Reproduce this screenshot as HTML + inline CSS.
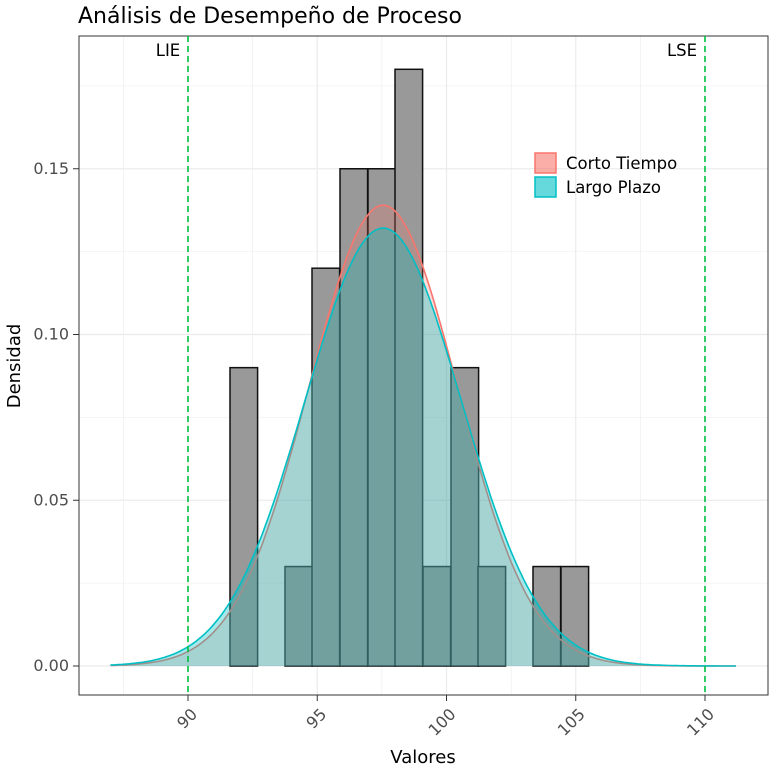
<!DOCTYPE html><html><head><meta charset="utf-8"><style>body{margin:0;background:#fff}svg{display:block;font-family:"DejaVu Sans","Liberation Sans",sans-serif}</style></head><body>
<svg id="s" width="776" height="770" xmlns="http://www.w3.org/2000/svg">
<text x="78" y="23" font-size="22" fill="#000">Análisis de Desempeño de Proceso</text>
<rect x="79" y="36" width="689" height="659" fill="#fff" stroke="none"/>
<g id="grid" stroke="#ebebeb"></g>
<g id="bars"></g>
<g id="curves"></g>
<rect x="79" y="36" width="689" height="659" fill="none" stroke="#333" stroke-width="1"/>
<line x1="188" y1="36" x2="188" y2="695" stroke="#00c040" stroke-width="1.6" stroke-dasharray="6,4"/>
<line x1="705" y1="36" x2="705" y2="695" stroke="#00c040" stroke-width="1.6" stroke-dasharray="6,4"/>
<text x="168" y="56" font-size="16.5" text-anchor="middle">LIE</text>
<text x="682" y="56" font-size="16.5" text-anchor="middle">LSE</text>
<g id="ticks" font-size="16" fill="#4d4d4d"></g>
<text x="423" y="763" font-size="18" text-anchor="middle">Valores</text>
<text transform="translate(20,366) rotate(-90)" font-size="18" text-anchor="middle">Densidad</text>
<rect x="535" y="153" width="21" height="20" fill="#F8766D" fill-opacity="0.6" stroke="#F8766D" stroke-width="1.5"/>
<rect x="535" y="177" width="21" height="20" fill="#00BFC4" fill-opacity="0.6" stroke="#00BFC4" stroke-width="1.5"/>
<text x="566" y="169" font-size="16.5">Corto Tiempo</text>
<text x="566" y="193" font-size="16.5">Largo Plazo</text>
</svg>
<script>
const X=v=>188+(v-90)*25.85, Y=d=>666-d*3315;
const ns="http://www.w3.org/2000/svg";
function el(p,t,a){const e=document.createElementNS(ns,t);for(const k in a)e.setAttribute(k,a[k]);document.getElementById(p).appendChild(e);return e;}
for(let v=87.5;v<=112.5;v+=2.5){const x=X(v);if(x>79&&x<768)el("grid","line",{x1:x,x2:x,y1:36,y2:695,"stroke-width":v%5==0?1.2:0.6});}
for(let d=-0.025;d<=0.2;d+=0.025){const y=Y(d);if(y>36&&y<695)el("grid","line",{x1:79,x2:768,y1:y,y2:y,"stroke-width":Math.abs(d/0.05-Math.round(d/0.05))<1e-6?1.2:0.6});}
const bars=[[230,.09],[285,.03],[312,.12],[340,.15],[368,.15],[395,.18],[423,.03],[451,.09],[478,.03],[533,.03],[561,.03]];
bars.forEach(b=>el("bars","rect",{x:b[0],y:Y(b[1]),width:27.6,height:666-Y(b[1]),fill:"#999",stroke:"#111","stroke-width":1.5}));
function curve(m,s,col,op){let p="";for(let v=87;v<=111.2;v+=0.1){const d=Math.exp(-0.5*((v-m)/s)**2)/(s*Math.sqrt(2*Math.PI));p+=(p?"L":"M")+X(v).toFixed(1)+","+Y(d).toFixed(1);}
el("curves","path",{d:p+"L"+X(111.2)+",666L"+X(87)+",666Z",fill:col,"fill-opacity":op,stroke:"none"});
el("curves","path",{d:p,fill:"none",stroke:col,"stroke-width":1.6});}
curve(97.55,2.87,"#F8766D",0.25);curve(97.55,3.02,"#00BFC4",0.35);
[90,95,100,105,110].forEach(v=>{const x=X(v);el("ticks","line",{x1:x,x2:x,y1:695,y2:701,stroke:"#333"});
const t=el("ticks","text",{transform:`translate(${x+7},${712}) rotate(-45)`,"text-anchor":"end","dominant-baseline":"middle"});t.textContent=v;});
[0,.05,.1,.15].forEach(d=>{const y=Y(d);el("ticks","line",{x1:73,x2:79,y1:y,y2:y,stroke:"#333"});
const t=el("ticks","text",{x:69,y:y+5,"text-anchor":"end"});t.textContent=d.toFixed(2);});
</script></body></html>
